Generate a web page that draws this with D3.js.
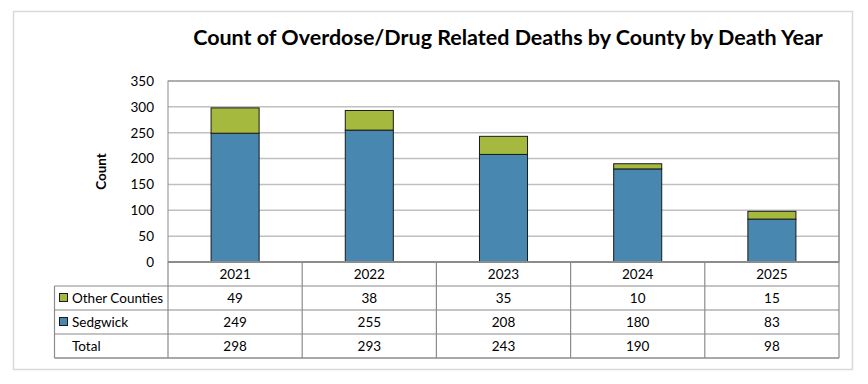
<!DOCTYPE html>
<html>
<head>
<meta charset="utf-8">
<script src="https://cdn.jsdelivr.net/npm/d3@7"></script>
<style>
  html, body { margin: 0; padding: 0; background: #fff; }
  svg { display: block; font-family: Lato, "Open Sans", sans-serif; }
</style>
</head>
<body>
<svg id="chart" width="868" height="384"></svg>
<script>
const years = ["2021", "2022", "2023", "2024", "2025"];
const sedgwick = [249, 255, 208, 180, 83];
const otherCounties = [49, 38, 35, 10, 15];
const totals = [298, 293, 243, 190, 98];
const yTicks = [0, 50, 100, 150, 200, 250, 300, 350];
const seriesNames = ["Other Counties", "Sedgwick"];
const seriesColors = { "Sedgwick": "#4787B0", "Other Counties": "#A4B93E" };
const titleText = "Count of Overdose/Drug Related Deaths by County by Death Year";
const yAxisTitle = "Count";

const svg = d3.select("#chart");

// outer frame
svg.append("rect").attr("x", 13.5).attr("y", 11.5).attr("width", 839).attr("height", 358)
  .attr("fill", "#fff").attr("stroke", "#d9d9d9").attr("stroke-width", 1.5);

const plotL = 168, plotR = 839, plotT = 81, plotB = 262;
const tableL = 54.5;
const rowH = 24;

const x = d3.scaleBand().domain(years).range([plotL, plotR]).padding(0);
const xBar = d3.scaleBand().domain(years).range([plotL, plotR]).paddingInner(0.642).paddingOuter(0.321);
const y = d3.scaleLinear().domain([0, 350]).range([plotB, plotT]);

// title
const title = svg.append("text").attr("x", 508).attr("y", 45).attr("text-anchor", "middle")
  .attr("font-weight", 700).attr("font-size", 22).attr("fill", "#000").text(titleText);
const tw = title.node().getComputedTextLength();
if (tw > 0) title.attr("font-size", 22 * 630 / tw);

// gridlines
svg.append("g").selectAll("line").data(yTicks.filter(d => d > 0)).join("line")
  .attr("x1", plotL).attr("x2", plotR)
  .attr("y1", d => y(d)).attr("y2", d => y(d))
  .attr("stroke", "#c0c0c0").attr("stroke-width", 1.5);

// plot border
svg.append("rect").attr("x", plotL).attr("y", plotT).attr("width", plotR - plotL).attr("height", plotB - plotT)
  .attr("fill", "none").attr("stroke", "#8c8c8c").attr("stroke-width", 1);

// y axis labels
const yAxis = d3.axisLeft(y).tickValues(yTicks).tickSize(0).tickPadding(14);
const yg = svg.append("g").attr("transform", `translate(${plotL},0)`).call(yAxis);
yg.select(".domain").remove();
yg.selectAll("text").attr("font-size", 13.5).attr("fill", "#000").attr("font-family", "Lato, 'Open Sans', sans-serif");

svg.append("text").attr("transform", `translate(106,${(plotT + plotB) / 2}) rotate(-90)`)
  .attr("text-anchor", "middle").attr("font-weight", 700).attr("font-size", 13.5).text(yAxisTitle);

// stacked bars
const data = years.map((yr, i) => ({ year: yr, "Sedgwick": sedgwick[i], "Other Counties": otherCounties[i] }));
const stack = d3.stack().keys(["Sedgwick", "Other Counties"])(data);
svg.append("g").selectAll("g").data(stack).join("g")
  .attr("fill", d => seriesColors[d.key])
  .selectAll("rect").data(d => d).join("rect")
  .attr("x", d => xBar(d.data.year)).attr("width", xBar.bandwidth())
  .attr("y", d => y(d[1])).attr("height", d => y(d[0]) - y(d[1]))
  .attr("stroke", "#1a1a1a").attr("stroke-width", 1);

// zero axis
svg.append("line").attr("x1", plotL).attr("x2", plotR).attr("y1", plotB).attr("y2", plotB)
  .attr("stroke", "#8c8c8c").attr("stroke-width", 2);

// data table
const tg = svg.append("g");
const rowsTop = plotB + rowH; // after header row
const tableB = plotB + rowH * 4;
// horizontal lines
[1, 2, 3].forEach(r => {
  tg.append("line").attr("x1", tableL).attr("x2", plotR)
    .attr("y1", plotB + rowH * r).attr("y2", plotB + rowH * r)
    .attr("stroke", "#b0b0b0").attr("stroke-width", 1.5);
});
tg.append("line").attr("x1", tableL).attr("x2", plotR).attr("y1", tableB).attr("y2", tableB)
  .attr("stroke", "#8c8c8c").attr("stroke-width", 1.5);
// vertical lines
years.forEach(yr => {
  tg.append("line").attr("x1", x(yr)).attr("x2", x(yr)).attr("y1", plotB).attr("y2", tableB)
    .attr("stroke", "#8c8c8c").attr("stroke-width", 1.2);
});
tg.append("line").attr("x1", plotR).attr("x2", plotR).attr("y1", plotT).attr("y2", tableB)
  .attr("stroke", "#8c8c8c").attr("stroke-width", 1.2);
tg.append("line").attr("x1", tableL).attr("x2", tableL).attr("y1", rowsTop).attr("y2", tableB)
  .attr("stroke", "#8c8c8c").attr("stroke-width", 1.2);

const fs = 13.5;
// header years
tg.selectAll("text.yr").data(years).join("text").attr("class", "yr")
  .attr("x", d => x(d) + x.bandwidth() / 2).attr("y", plotB + rowH / 2 + 5)
  .attr("text-anchor", "middle").attr("font-size", fs).text(d => d);

const rows = [
  { name: "Other Counties", vals: otherCounties, color: seriesColors["Other Counties"] },
  { name: "Sedgwick", vals: sedgwick, color: seriesColors["Sedgwick"] },
  { name: "Total", vals: totals, color: null }
];
rows.forEach((row, r) => {
  const cy = rowsTop + rowH * r + rowH / 2;
  if (row.color) {
    tg.append("rect").attr("x", 59.5).attr("y", cy - 4.5).attr("width", 8).attr("height", 8)
      .attr("fill", row.color).attr("stroke", "#1a1a1a").attr("stroke-width", 1);
  }
  tg.append("text").attr("x", 72).attr("y", cy + 5).attr("font-size", fs).text(row.name);
  tg.selectAll(null).data(row.vals).join("text")
    .attr("x", (d, i) => x(years[i]) + x.bandwidth() / 2).attr("y", cy + 5)
    .attr("text-anchor", "middle").attr("font-size", fs).text(d => d);
});
</script>
</body>
</html>
